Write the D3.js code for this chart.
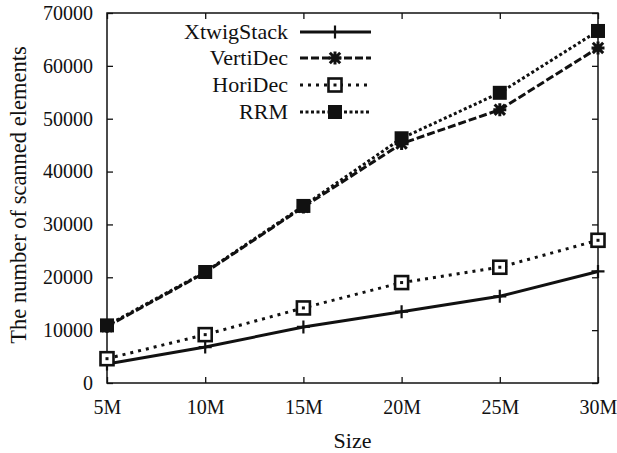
<!DOCTYPE html>
<html>
<head>
<meta charset="utf-8">
<script src="https://cdn.jsdelivr.net/npm/d3@7"></script>
<style>
  body { margin: 0; background: #fff; }
  text { font-family: "Liberation Serif", "Times New Roman", serif; fill: #111; }
</style>
</head>
<body>
<svg id="chart" width="617" height="453"></svg>
<script>
// data
const sizes = ["5M", "10M", "15M", "20M", "25M", "30M"]
const xtwigStack = [3600, 6800, 10600, 13500, 16400, 21100]
const vertiDec = [10700, 20900, 33300, 45300, 51700, 63400]
const horiDec = [4600, 9150, 14200, 19000, 21900, 27000]
const rrm = [10900, 21000, 33500, 46300, 54900, 66600]
const yTicks = [0, 10000, 20000, 30000, 40000, 50000, 60000, 70000]

const series = [
  { name: "XtwigStack", values: xtwigStack, dash: null, marker: "plus" },
  { name: "VertiDec", values: vertiDec, dash: "8,3", marker: "star" },
  { name: "HoriDec", values: horiDec, dash: "3,5", marker: "openSquare" },
  { name: "RRM", values: rrm, dash: "3,2.5", marker: "square" }
]

const svg = d3.select("#chart")
const plot = { left: 107, right: 598, top: 13, bottom: 383 }

const x = d3.scalePoint().domain(sizes).range([plot.left, plot.right])
const y = d3.scaleLinear().domain([0, 70000]).range([plot.bottom, plot.top])

// frame
svg.append("rect")
  .attr("x", plot.left).attr("y", plot.top)
  .attr("width", plot.right - plot.left).attr("height", plot.bottom - plot.top)
  .attr("fill", "none").attr("stroke", "#111").attr("stroke-width", 1.5)

// axes with inward ticks, mirrored on opposite sides
const tickLen = 6
svg.append("g").attr("transform", `translate(0,${plot.bottom})`)
  .call(d3.axisBottom(x).tickSizeInner(-tickLen).tickSizeOuter(0).tickPadding(17))
svg.append("g").attr("transform", `translate(${plot.left},0)`)
  .call(d3.axisLeft(y).tickValues(yTicks).tickFormat(d3.format("d")).tickSizeInner(-tickLen).tickSizeOuter(0).tickPadding(14))
svg.append("g").attr("transform", `translate(0,${plot.top})`)
  .call(d3.axisTop(x).tickSizeInner(-tickLen).tickSizeOuter(0).tickFormat(""))
svg.append("g").attr("transform", `translate(${plot.right},0)`)
  .call(d3.axisRight(y).tickValues(yTicks).tickSizeInner(-tickLen).tickSizeOuter(0).tickFormat(""))

svg.selectAll(".domain").remove()
svg.selectAll(".tick line").attr("stroke", "#111").attr("stroke-width", 1.3)
svg.selectAll(".tick text").attr("font-size", 20).attr("fill", "#111")
  .style("font-family", "'Liberation Serif', serif")

// axis titles
svg.append("text")
  .attr("x", (plot.left + plot.right) / 2).attr("y", 448)
  .attr("text-anchor", "middle").attr("font-size", 22)
  .text("Size")
svg.append("text")
  .attr("transform", `translate(26,${(plot.top + plot.bottom) / 2 - 3}) rotate(-90)`)
  .attr("text-anchor", "middle").attr("font-size", 22.5)
  .text("The number of scanned elements")

function drawMarker(g, type, cx, cy) {
  const s = 6.5
  if (type === "plus") {
    g.append("path").attr("d", `M${cx - s},${cy}H${cx + s}M${cx},${cy - s}V${cy + s}`)
      .attr("stroke", "#111").attr("stroke-width", 2.2).attr("fill", "none")
  } else if (type === "star") {
    const d = s * 0.8
    g.append("path")
      .attr("d", `M${cx - s},${cy}H${cx + s}M${cx},${cy - s}V${cy + s}M${cx - d},${cy - d}L${cx + d},${cy + d}M${cx - d},${cy + d}L${cx + d},${cy - d}`)
      .attr("stroke", "#111").attr("stroke-width", 3).attr("fill", "none")
  } else if (type === "openSquare") {
    g.append("rect").attr("x", cx - s).attr("y", cy - s).attr("width", 2 * s).attr("height", 2 * s)
      .attr("fill", "#fff").attr("stroke", "#111").attr("stroke-width", 2.6)
    g.append("rect").attr("x", cx - 1.5).attr("y", cy - 1.5).attr("width", 3).attr("height", 3).attr("fill", "#111")
  } else {
    g.append("rect").attr("x", cx - 7).attr("y", cy - 7).attr("width", 14).attr("height", 14).attr("fill", "#111")
  }
}

const line = d3.line().x((d, i) => x(sizes[i])).y(d => y(d))

series.forEach(s => {
  const g = svg.append("g")
  g.append("path")
    .datum(s.values)
    .attr("d", line)
    .attr("fill", "none")
    .attr("stroke", "#111")
    .attr("stroke-width", 3)
    .attr("stroke-dasharray", s.dash)
  s.values.forEach((v, i) => drawMarker(g, s.marker, x(sizes[i]), y(v)))
})

// legend
const legendRows = [32, 58, 85, 112]
series.forEach((s, i) => {
  const ly = legendRows[i]
  const g = svg.append("g")
  g.append("text")
    .attr("x", 288).attr("y", ly + 7)
    .attr("text-anchor", "end").attr("font-size", 22)
    .text(s.name)
  g.append("line")
    .attr("x1", 300).attr("x2", 371).attr("y1", ly).attr("y2", ly)
    .attr("stroke", "#111").attr("stroke-width", 3)
    .attr("stroke-dasharray", s.dash)
  drawMarker(g, s.marker, 335, ly)
})
</script>
</body>
</html>
